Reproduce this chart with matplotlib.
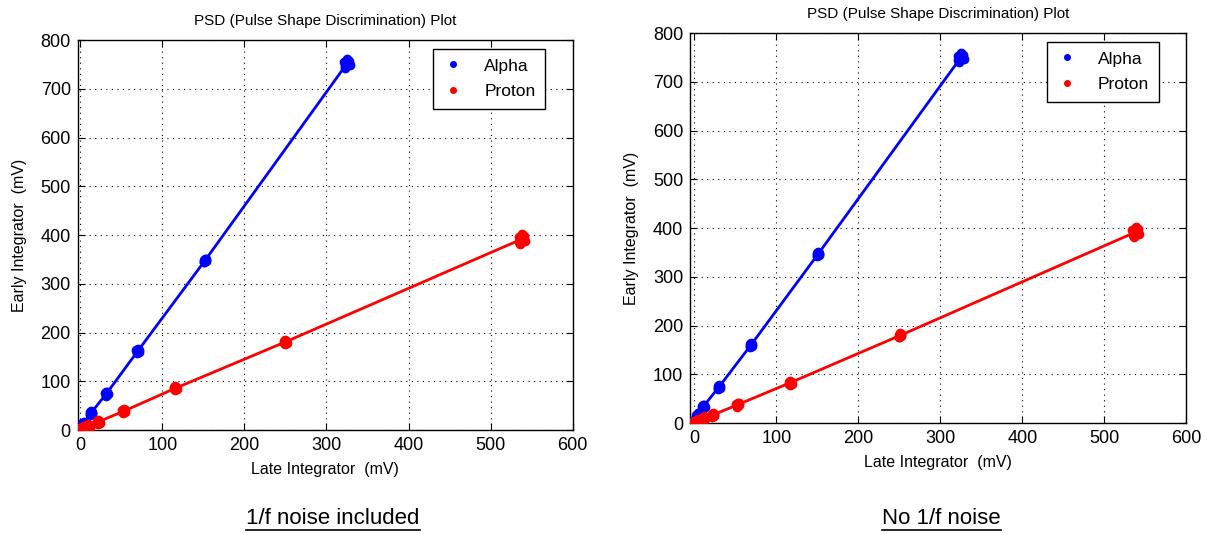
import numpy as np
import matplotlib
matplotlib.use("Agg")
import matplotlib.pyplot as plt
from matplotlib.lines import Line2D

plt.rcParams['font.family'] = ['Liberation Sans', 'DejaVu Sans']

# cluster centres (late, early) in mV
left_alpha_x = [0, 4, 13, 32, 70, 152, 325]
left_alpha_y = [5, 13, 35, 75, 162, 348, 752]
left_proton_x = [0, 4, 10, 22, 53, 116, 250, 538]
left_proton_y = [1, 4, 9, 17, 39, 86, 181, 392]

right_alpha_x = [0, 4, 11, 30, 69, 151, 325]
right_alpha_y = [3, 16, 34, 74, 160, 347, 750]
right_proton_x = [0, 5, 12, 23, 53, 117, 251, 538]
right_proton_y = [0, 5, 10, 17, 38, 83, 180, 392]

# spread of the individual pulses round each centre (small, hand read)
spread_x = [-3, 3, 0, -2, 2, 4, -4, 1]
spread_y = [-6, 6, 10, -10, 2, -4, 4, 0]
spread_scale_small = 0.4  # lower-amplitude clusters are tighter

titles = ['PSD (Pulse Shape Discrimination) Plot', 'PSD (Pulse Shape Discrimination) Plot']
captions = ['1/f noise included', 'No 1/f noise']
xticks = [0, 100, 200, 300, 400, 500, 600]
yticks = [0, 100, 200, 300, 400, 500, 600, 700, 800]

fig = plt.figure(figsize=(12.15, 5.35), dpi=100)
ax_l = fig.add_axes([0.064, 0.196, 0.4074, 0.729])
ax_r = fig.add_axes([0.568, 0.209, 0.4085, 0.729])


def draw_panel(ax, ax_x, ay, px, py, title, x0):
    for xs, ys, col, lab in [(ax_x, ay, 'blue', 'Alpha'), (px, py, 'red', 'Proton')]:
        ax.plot(xs, ys, '-', color=col, lw=2, zorder=3)
        ptsx, ptsy = [], []
        for i, (cx, cy) in enumerate(zip(xs, ys)):
            s = 1.0 if i == len(xs) - 1 else spread_scale_small
            for dx, dy in zip(spread_x, spread_y):
                ptsx.append(cx + dx * s)
                ptsy.append(cy + dy * s)
        ax.plot(ptsx, ptsy, 'o', color=col, ms=6, mec=col, ls='none', zorder=4)
        ax.plot([], [], 'o', color=col, ms=4, ls='none', label=lab)
    ax.set_xlim(x0, 600)
    ax.set_ylim(0, 800)
    ax.set_xticks(xticks)
    ax.set_yticks(yticks)
    ax.grid(True, color='black', linestyle=(0, (1, 4)), linewidth=0.8)
    ax.tick_params(direction='in', top=True, right=True, labelsize=13, length=5, pad=5)
    ax.set_xlabel('Late Integrator  (mV)', fontsize=11.5, labelpad=6)
    ax.set_ylabel('Early Integrator  (mV)', fontsize=11.5, labelpad=10)
    ax.set_title(title, fontsize=11, pad=11)
    for sp in ax.spines.values():
        sp.set_linewidth(1)
    leg = ax.legend(loc='upper right', bbox_to_anchor=(0.962, 1.0), fontsize=12.5,
                    fancybox=False, framealpha=1, edgecolor='black',
                    handlelength=1.2, handletextpad=1.2, borderpad=0.55, labelspacing=0.6)
    leg.get_frame().set_linewidth(1)


draw_panel(ax_l, left_alpha_x, left_alpha_y, left_proton_x, left_proton_y, titles[0], -3)
draw_panel(ax_r, right_alpha_x, right_alpha_y, right_proton_x, right_proton_y, titles[1], -5)

cap_texts = []
for xc, cap in zip([0.274, 0.775], captions):
    cap_texts.append(fig.text(xc, 0.02, cap, ha='center', va='baseline', fontsize=16))

# underline the captions
fig.canvas.draw()
r = fig.canvas.get_renderer()
for t in cap_texts:
    bb = t.get_window_extent(renderer=r)
    yline = bb.y0 - 1
    fig.add_artist(Line2D([bb.x0 / fig.bbox.width, bb.x1 / fig.bbox.width],
                          [yline / fig.bbox.height, yline / fig.bbox.height],
                          color='black', lw=1.2, transform=fig.transFigure))

fig.savefig('out.png', dpi=100)
